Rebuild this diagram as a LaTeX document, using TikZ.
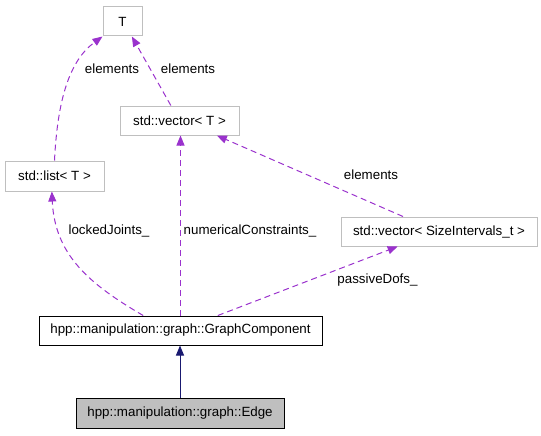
\documentclass[tikz,border=0pt]{standalone}
\usepackage{fontspec}
\setmainfont{Liberation Sans}
\usetikzlibrary{arrows.meta}
\definecolor{usepurple}{HTML}{9A32CD}
\definecolor{inhblue}{HTML}{191970}
\definecolor{boxgrey}{HTML}{BFBFBF}

\begin{document}
\begin{tikzpicture}[x=0.75pt, y=-0.75pt, font=\fontsize{10}{12}\selectfont,
  >={Triangle[length=7.5pt,width=6pt]},
  cls/.style={draw=boxgrey, fill=white, line width=0.75pt, inner sep=0pt, minimum height=21.75pt},
  main/.style={draw=black, fill=white, line width=0.75pt, inner sep=0pt, minimum height=21.75pt},
  self/.style={main, fill=boxgrey},
  uses/.style={->, draw=usepurple, line width=0.75pt, dash pattern=on 4.5pt off 3pt},
  inh/.style={->, draw=inhblue, line width=0.75pt},
  lbl/.style={inner sep=1pt}
]
\useasboundingbox (0,0) rectangle (541,435);
% classes (top to bottom)
\node[cls, minimum width=29.25pt] (T) at (122.5,21.5) {T};
\node[cls, minimum width=89.25pt] (vecT) at (179.5,120.5) {std::vector< T >};
\node[cls, minimum width=74.25pt, minimum height=22.5pt] (lst) at (54.5,176) {std::list< T >};
\node[cls, minimum width=147pt] (vecS) at (439,231.5) {std::vector< SizeIntervals\_t >};
\node[main, minimum width=212.25pt] (gc) at (180.5,330.5) {hpp::manipulation::graph::GraphComponent};
\node[self, minimum width=156pt, minimum height=22.5pt] (edge) at (180,413) {hpp::manipulation::graph::Edge};
% member relations
\draw[uses] (lst.north) .. controls +(3,-61) and +(-33,24) .. (T.south west);
\draw[uses] (vecT.120) -- (T.-58);
\draw[uses] ([xshift=-27pt]vecS.north) -- ([xshift=28pt]vecT.south);
\draw[uses] ([xshift=-28pt]gc.north) .. controls +(-53,-31) and +(3,64) .. ([xshift=-2pt]lst.south);
\draw[uses] (gc.north) -- (gc.north |- vecT.south);
\draw[uses] ([xshift=28pt]gc.north) -- ([xshift=-31pt]vecS.south);
% inheritance
\draw[inh] (edge.north) -- (edge.north |- gc.south);
% labels
\node[lbl] (eL) at (112,69) {elements};
\node[lbl] (eV) at (188,69) {elements};
\node[lbl] (eS) at (371,175) {elements};
\node[lbl] (lj) at (109,231) {lockedJoints\_};
\node[lbl] (nc) at (250,231) {numericalConstraints\_};
\node[lbl] (pd) at (377.5,280) {passiveDofs\_};
\end{tikzpicture}
\end{document}
